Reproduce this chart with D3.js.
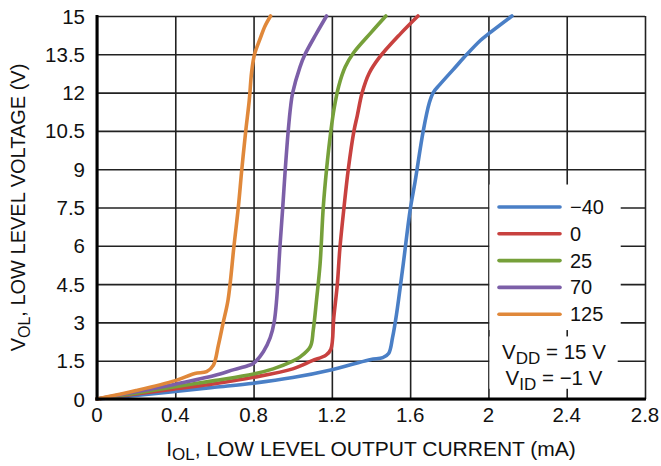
<!DOCTYPE html>
<html>
<head>
<meta charset="utf-8">
<script src="https://cdn.jsdelivr.net/npm/d3@7"></script>
<style>
  body { margin: 0; background: #fff; }
  text { font-family: "Liberation Sans", Arial, Helvetica, sans-serif; fill: #111; }
</style>
</head>
<body>
<main></main>
<script>
// temperatures (legend) and curve colours
let temps = ['\u221240', '0', '25', '70', '125']
let colors = ['#4a7fc6', '#c8413f', '#76a03a', '#7c5fa8', '#e0883a']

// I_OL (mA), V_OL (V)
let curveM40 = [[0,0],[0.2,0.14],[0.4,0.3],[0.6,0.46],[0.8,0.62],[1.0,0.84],[1.2,1.15],[1.3,1.35],[1.4,1.55],[1.46,1.62],[1.49,1.78],[1.51,2.4],[1.53,3.3],[1.565,5.3],[1.6,7.4],[1.625,8.5],[1.667,10.5],[1.698,11.6],[1.718,12.0],[1.75,12.3],[1.82,12.9],[1.89,13.5],[1.96,14.05],[2.0,14.3],[2.12,15.0]]
let curve0 = [[0,0],[0.2,0.2],[0.4,0.4],[0.6,0.6],[0.8,0.85],[1.0,1.18],[1.1,1.5],[1.17,1.72],[1.195,1.95],[1.21,3.2],[1.228,4.5],[1.241,5.9],[1.262,7.5],[1.284,9.0],[1.313,10.5],[1.33,11.1],[1.355,12.0],[1.39,12.75],[1.44,13.35],[1.55,14.3],[1.64,15.0]]
let curve25 = [[0,0],[0.2,0.23],[0.4,0.48],[0.6,0.72],[0.8,0.98],[0.9,1.18],[1.0,1.48],[1.04,1.66],[1.09,2.05],[1.105,2.7],[1.122,3.9],[1.14,5.3],[1.156,7.5],[1.173,9.0],[1.195,10.5],[1.212,11.4],[1.235,12.25],[1.268,13.0],[1.31,13.55],[1.4,14.35],[1.476,15.0]]
let curve70 = [[0,0],[0.2,0.28],[0.4,0.58],[0.6,0.92],[0.7,1.15],[0.77,1.3],[0.8,1.4],[0.85,1.85],[0.885,2.4],[0.905,3.0],[0.918,3.9],[0.935,6.0],[0.949,7.5],[0.962,9.0],[0.977,10.5],[0.99,11.5],[1.0,12.0],[1.037,13.0],[1.063,13.5],[1.12,14.3],[1.173,15.0]]
let curve125 = [[0,0],[0.2,0.33],[0.4,0.72],[0.5,1.0],[0.56,1.07],[0.595,1.33],[0.62,2.1],[0.645,3.0],[0.67,3.9],[0.7,6.0],[0.722,7.5],[0.74,9.0],[0.76,10.5],[0.778,11.7],[0.79,12.8],[0.805,13.5],[0.833,14.1],[0.858,14.6],[0.887,15.0]]
let curves = [curveM40, curve0, curve25, curve70, curve125]

let xTicks = [0, 0.4, 0.8, 1.2, 1.6, 2, 2.4, 2.8]
let yTicks = [0, 1.5, 3, 4.5, 6, 7.5, 9, 10.5, 12, 13.5, 15]

let W = 661, H = 466
let margin = {top: 16, right: 16, bottom: 67, left: 97}

let svg = d3.select('main')
  .append('svg')
  .attr('width', W)
  .attr('height', H)

let x = d3.scaleLinear()
          .domain([0, 2.8])
          .range([margin.left, W - margin.right])

let y = d3.scaleLinear()
          .domain([0, 15])
          .range([H - margin.bottom, margin.top])

// grid
svg.append('g')
   .attr('transform', `translate(0, ${y(0)})`)
   .call(d3.axisBottom(x).tickValues(xTicks).tickSize(-(y(0) - y(15))).tickFormat(''))
   .call(g => g.select('.domain').remove())
   .call(g => g.selectAll('line').attr('stroke', '#222').attr('stroke-width', 1.6))

svg.append('g')
   .attr('transform', `translate(${x(0)}, 0)`)
   .call(d3.axisLeft(y).tickValues(yTicks).tickSize(-(x(2.8) - x(0))).tickFormat(''))
   .call(g => g.select('.domain').remove())
   .call(g => g.selectAll('line').attr('stroke', '#222').attr('stroke-width', 1.6))

// legend background (covers the grid)
svg.append('rect')
   .attr('x', x(2.0) + 1).attr('y', y(8.4))
   .attr('width', x(2.4) + 53 - x(2.0)).attr('height', y(2.7) - y(8.4))
   .attr('fill', '#fff')
svg.append('rect')
   .attr('x', x(2.0) + 1).attr('y', y(2.45))
   .attr('width', x(2.4) + 50 - x(2.0)).attr('height', y(0.4) - y(2.45))
   .attr('fill', '#fff')

// curves
let line = d3.line()
  .x(d => x(d[0]))
  .y(d => y(d[1]))
  .curve(d3.curveCatmullRom.alpha(0.5))

svg.append('g')
   .selectAll('path')
   .data(curves)
   .enter()
   .append('path')
   .attr('d', line)
   .attr('fill', 'none')
   .attr('stroke', (d, i) => colors[i])
   .attr('stroke-width', 3.6)
   .attr('stroke-linejoin', 'round')
   .attr('stroke-linecap', 'round')

// axes
svg.append('line')
   .attr('x1', x(0)).attr('x2', x(0))
   .attr('y1', y(15) - 1).attr('y2', y(0) + 1.5)
   .attr('stroke', '#000').attr('stroke-width', 3)
svg.append('line')
   .attr('x1', x(0) - 1.5).attr('x2', x(2.8) + 1)
   .attr('y1', y(0)).attr('y2', y(0))
   .attr('stroke', '#000').attr('stroke-width', 3)

// tick labels
svg.append('g')
   .selectAll('text')
   .data(xTicks)
   .enter()
   .append('text')
   .attr('x', d => x(d))
   .attr('y', y(0) + 23)
   .attr('text-anchor', 'middle')
   .style('font-size', '20.5px')
   .text(d => d)

svg.append('g')
   .selectAll('text')
   .data(yTicks)
   .enter()
   .append('text')
   .attr('x', x(0) - 12)
   .attr('y', d => y(d) + 7.5)
   .attr('text-anchor', 'end')
   .style('font-size', '20.5px')
   .text(d => d)

// legend
let lg = svg.append('g')
lg.selectAll('line')
  .data(temps)
  .enter()
  .append('line')
  .attr('x1', 499).attr('x2', 560)
  .attr('y1', (d, i) => 207 + i * 26.8)
  .attr('y2', (d, i) => 207 + i * 26.8)
  .attr('stroke', (d, i) => colors[i])
  .attr('stroke-width', 3.6)
  .attr('stroke-linecap', 'round')
lg.selectAll('text')
  .data(temps)
  .enter()
  .append('text')
  .attr('x', 570)
  .attr('y', (d, i) => 214 + i * 26.8)
  .style('font-size', '20px')
  .text(d => d)

// conditions
let c1 = svg.append('text').attr('x', 554).attr('y', 359).attr('text-anchor', 'middle').style('font-size', '20.5px')
c1.append('tspan').text('V')
c1.append('tspan').attr('dy', 5).style('font-size', '17px').text('DD')
c1.append('tspan').attr('dy', -5).text(' = 15 V')
let c2 = svg.append('text').attr('x', 554).attr('y', 385).attr('text-anchor', 'middle').style('font-size', '20.5px')
c2.append('tspan').text('V')
c2.append('tspan').attr('dy', 5).style('font-size', '17px').text('ID')
c2.append('tspan').attr('dy', -5).text(' = \u22121 V')

// axis titles
let xt = svg.append('text').attr('x', 371).attr('y', 456).attr('text-anchor', 'middle').style('font-size', '21px')
xt.append('tspan').text('I')
xt.append('tspan').attr('dy', 4).style('font-size', '17px').text('OL')
xt.append('tspan').attr('dy', -4).text(', LOW LEVEL OUTPUT CURRENT (mA)')

let yt = svg.append('text')
  .attr('transform', `translate(25, ${(y(0) + y(15)) / 2}) rotate(-90)`)
  .attr('text-anchor', 'middle')
  .style('font-size', '20px')
yt.append('tspan').text('V')
yt.append('tspan').attr('dy', 5).style('font-size', '16px').text('OL')
yt.append('tspan').attr('dy', -5).text(', LOW LEVEL VOLTAGE (V)')
</script>
</body>
</html>
